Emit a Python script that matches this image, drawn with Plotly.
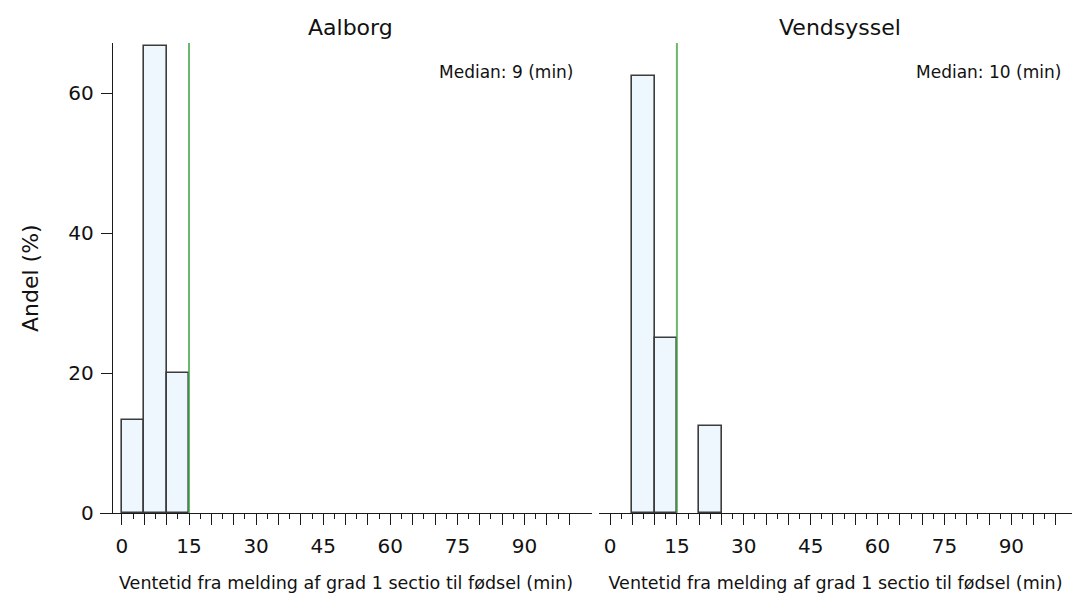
import plotly.graph_objects as go

# ---- data ----
bin_width = 5
aalborg_bin_start = [0, 5, 10]
aalborg_share = [13.3, 66.7, 20.0]
vendsyssel_bin_start = [5, 10, 20]
vendsyssel_share = [62.5, 25.0, 12.5]
target_min = 15
median_aalborg = 9
median_vendsyssel = 10
panel_titles = ["Aalborg", "Vendsyssel"]
x_major = list(range(0, 101, 5))
x_minor = [v + 2.5 for v in range(0, 100, 5)]
x_labels = [str(v) if v % 15 == 0 else "" for v in x_major]
y_ticks = [0, 20, 40, 60]
x_title = "Ventetid fra melding af grad 1 sectio til fødsel (min)"
y_title = "Andel (%)"

W, H = 1072, 596
FONT = "DejaVu Sans"
fill = "#eef7fe"
edge = "#3c3c3c"
axc = "#1a1a1a"

def px(v):
    return v / W

def py(v):
    return (H - v) / H

fig = go.Figure()
for xs, ys, xa, ya in [(aalborg_bin_start, aalborg_share, "x", "y"),
                       (vendsyssel_bin_start, vendsyssel_share, "x2", "y2")]:
    fig.add_trace(go.Bar(
        x=[s + bin_width / 2 for s in xs], y=ys, width=bin_width,
        marker=dict(color=fill, line=dict(color=edge, width=1.6)),
        xaxis=xa, yaxis=ya, showlegend=False, hoverinfo="x+y"))

ydom = [py(513), py(43)]
yrange = [0, 67.15]

xcommon = dict(
    automargin=False,
    showline=True, linecolor=axc, linewidth=1.4, showgrid=False, zeroline=False,
    ticks="outside", ticklen=11, tickwidth=1.4, tickcolor=axc,
    tickmode="array", tickvals=x_major, ticktext=x_labels, ticklabelstandoff=4,
    tickfont=dict(family=FONT, size=20, color="#111"),
    minor=dict(tickmode="array", tickvals=x_minor, ticks="outside", ticklen=5,
               tickwidth=1.4, tickcolor=axc, showgrid=False),
    title=dict(text=x_title, font=dict(family=FONT, size=17.5, color="#111"), standoff=19),
)

fig.update_layout(
    width=W, height=H, margin=dict(l=0, r=0, t=0, b=0, autoexpand=False),
    plot_bgcolor="white", paper_bgcolor="white", bargap=0,
    font=dict(family=FONT, color="#111"),
    xaxis=dict(domain=[px(100), px(592)], range=[-4.9, 105.1], anchor="y", **xcommon),
    xaxis2=dict(domain=[px(599), px(1072)], range=[-2.47, 103.6], anchor="y2", **xcommon),
    yaxis=dict(domain=ydom, range=yrange, anchor="free", position=px(112), automargin=False,
               showline=True, linecolor=axc, linewidth=1.4, showgrid=False, zeroline=False,
               ticks="outside", ticklen=11, tickwidth=1.4, tickcolor=axc, ticklabelstandoff=3,
               tickvals=y_ticks, tickfont=dict(family=FONT, size=20, color="#111")),
    yaxis2=dict(domain=ydom, range=yrange, anchor="x2", showline=False, showgrid=False,
                automargin=False, zeroline=False, showticklabels=False, ticks=""),
)

for xref in ["x", "x2"]:
    fig.add_shape(type="line", xref=xref, yref="paper", x0=target_min, x1=target_min,
                  y0=ydom[0], y1=ydom[1], line=dict(color="rgba(70,165,70,0.8)", width=2),
                  layer="above")

fig.add_annotation(x=px(30), y=py(278), xref="paper", yref="paper", text=y_title,
                   textangle=-90, xanchor="center", yanchor="middle", showarrow=False,
                   font=dict(family=FONT, size=22, color="#111"))
fig.add_annotation(x=px(350), y=py(27), xref="paper", yref="paper", text=panel_titles[0],
                   xanchor="center", yanchor="middle",
                   showarrow=False, font=dict(family=FONT, size=22, color="#111"))
fig.add_annotation(x=px(840), y=py(27), xref="paper", yref="paper", text=panel_titles[1],
                   xanchor="center", yanchor="middle",
                   showarrow=False, font=dict(family=FONT, size=22, color="#111"))
fig.add_annotation(x=px(576), y=py(72), xref="paper", yref="paper", xanchor="right",
                   yanchor="middle",
                   text=f"Median: {median_aalborg} (min)", showarrow=False,
                   font=dict(family=FONT, size=17, color="#111"))
fig.add_annotation(x=px(1063), y=py(72), xref="paper", yref="paper", xanchor="right",
                   yanchor="middle",
                   text=f"Median: {median_vendsyssel} (min)", showarrow=False,
                   font=dict(family=FONT, size=17, color="#111"))

fig.write_html("out.html")
